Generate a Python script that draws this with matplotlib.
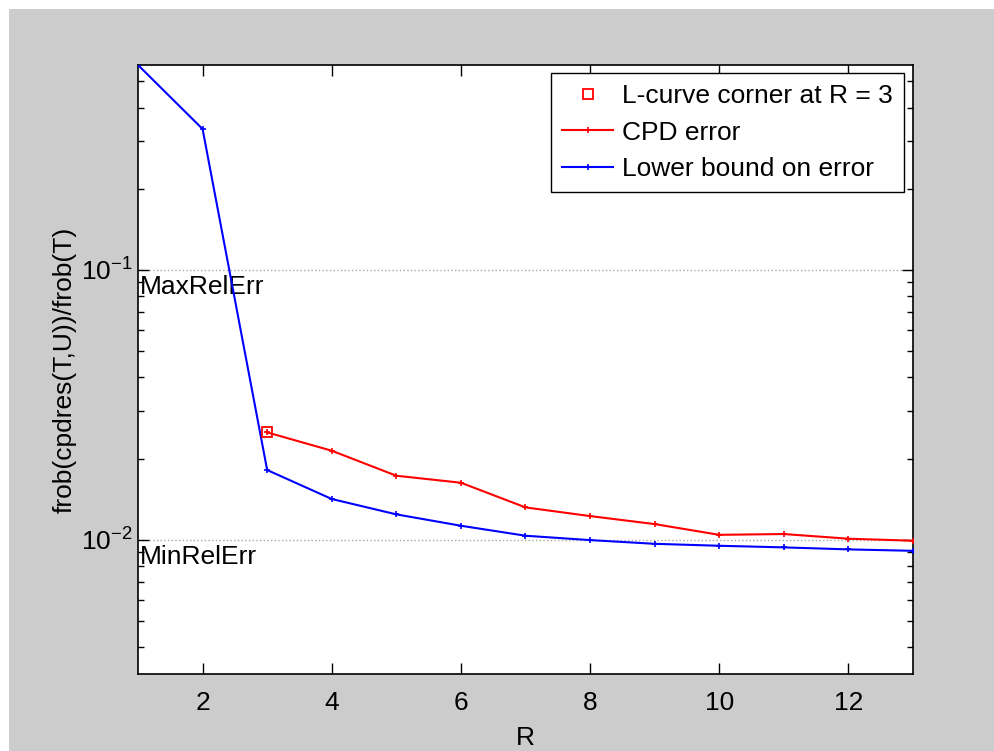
import matplotlib
matplotlib.use("Agg")
import matplotlib.pyplot as plt
from matplotlib.patches import Rectangle
from matplotlib.ticker import LogLocator, LogFormatterMathtext, NullFormatter

plt.rcParams['font.family'] = ['Liberation Sans', 'DejaVu Sans']
plt.rcParams['mathtext.fontset'] = 'custom'
plt.rcParams['mathtext.rm'] = 'Liberation Sans'
plt.rcParams['axes.unicode_minus'] = False

# Data
R = [1, 2, 3, 4, 5, 6, 7, 8, 9, 10, 11, 12, 13]
cpd_err_R = [3, 4, 5, 6, 7, 8, 9, 10, 11, 12, 13]
cpd_err = [0.0250, 0.02138, 0.01727, 0.01627, 0.01318, 0.01224, 0.01143,
           0.01043, 0.01050, 0.01009, 0.00992]
lower_bound = [0.575, 0.333, 0.01813, 0.01416, 0.01242, 0.01127, 0.01035,
               0.00997, 0.00966, 0.00950, 0.00937, 0.00921, 0.00910]
corner_R = 3
corner_err = 0.0250
max_rel_err = 0.1
min_rel_err = 0.01
ylim = (0.00318, 0.575)
xlim = (1, 13)
xticks = [2, 4, 6, 8, 10, 12]

fs = 19
W, H = 995, 751
fig = plt.figure(figsize=(W / 100, H / 100), dpi=100, facecolor='white')
fig.patches.append(Rectangle((9 / W, 0), 1 - 9 / W, 1 - 9 / H,
                             transform=fig.transFigure, facecolor='#cccccc',
                             edgecolor='none', zorder=-10))

ax = fig.add_axes([138 / W, (H - 674) / H, 775 / W, 609 / H])
ax.set_facecolor('white')

# Reference levels
ax.axhline(max_rel_err, color='#a8a8a8', ls=':', lw=1.0, zorder=1)
ax.axhline(min_rel_err, color='#a8a8a8', ls=':', lw=1.0, zorder=1)
ax.text(xlim[0] + 0.03, max_rel_err * 0.955, 'MaxRelErr', ha='left', va='top', fontsize=fs)
ax.text(xlim[0] + 0.03, min_rel_err * 0.955, 'MinRelErr', ha='left', va='top', fontsize=fs)

ax.plot([corner_R], [corner_err], ls='none', marker='s', ms=7, mfc='none',
        mec='red', mew=1.3, label='L-curve corner at R = %d' % corner_R, zorder=4)
ax.plot(cpd_err_R, cpd_err, color='red', lw=1.5, marker='+', ms=5, mew=1.2,
        label='CPD error', zorder=3)
ax.plot(R, lower_bound, color='blue', lw=1.5, marker='+', ms=5, mew=1.2,
        label='Lower bound on error', zorder=3)

ax.set_yscale('log')
ax.set_xlim(*xlim)
ax.set_ylim(*ylim)
ax.set_xticks(xticks)
ax.yaxis.set_major_locator(LogLocator(base=10, numticks=10))
ax.yaxis.set_major_formatter(LogFormatterMathtext())
ax.yaxis.set_minor_locator(LogLocator(base=10, subs=range(2, 10), numticks=20))
ax.yaxis.set_minor_formatter(NullFormatter())

ax.tick_params(axis='both', which='major', direction='in', length=8, width=1,
               top=True, right=True, labelsize=fs, colors='black')
ax.tick_params(axis='y', which='major', pad=4)
ax.tick_params(axis='x', which='major', pad=12)
ax.tick_params(axis='y', which='minor', direction='in', length=4, width=1,
               left=True, right=True)
for s in ax.spines.values():
    s.set_linewidth(1.2)
    s.set_color('black')

ax.set_xlabel('R', fontsize=fs)
ax.xaxis.set_label_coords(0.5, -0.086)
ax.set_ylabel('frob(cpdres(T,U))/frob(T)', fontsize=fs)
ax.yaxis.set_label_coords(-0.079, 0.5)

leg = ax.legend(loc='upper right', bbox_to_anchor=(0.988, 0.987),
                borderaxespad=0, fontsize=fs, fancybox=False, framealpha=1,
                edgecolor='black', handlelength=1.95, handletextpad=0.32,
                labelspacing=0.48, borderpad=0.42)
leg.get_frame().set_linewidth(1.0)

fig.savefig('out.png', dpi=100, facecolor=fig.get_facecolor())
